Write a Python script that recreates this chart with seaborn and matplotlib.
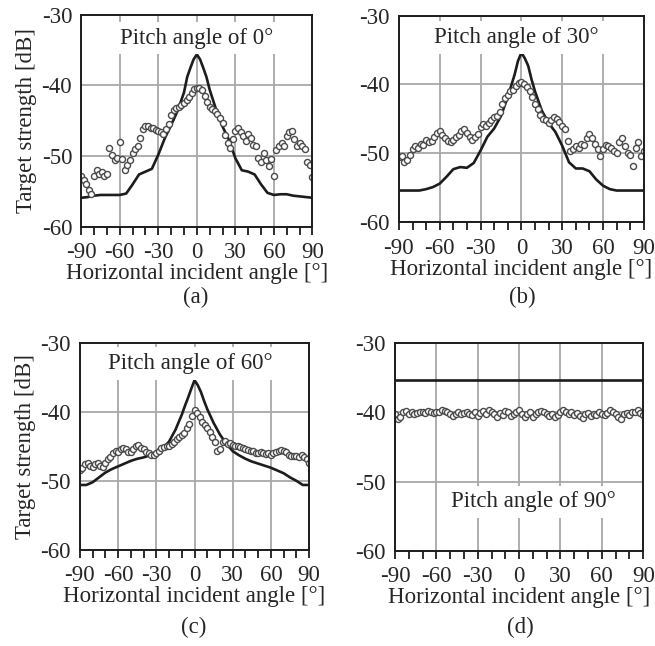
import numpy as np
import matplotlib
matplotlib.use("Agg")
import matplotlib.pyplot as plt
import seaborn as sns

# horizontal incident angle grids [deg]
sim_angle = [-90, -85, -80, -75, -70, -65, -60, -55, -50, -45, -40, -35, -30,
             -25, -20, -15, -10, -7.5, -5, -2.5, 0, 2.5, 5, 7.5, 10, 15, 20,
             25, 30, 35, 40, 45, 50, 55, 60, 65, 70, 75, 80, 85, 90]
meas_angle = np.arange(-90, 91, 2)

# simulated target strength [dB] (solid lines)
sim_p0 = [-55.9, -55.8, -55.6, -55.5, -55.5, -55.5, -55.5, -55.3, -54.0, -52.6,
          -52.2, -51.8, -49.8, -47.5, -45.6, -43.6, -41.0, -38.8, -37.5, -36.3,
          -35.6, -36.3, -37.5, -38.8, -40.6, -43.4, -45.8, -47.7, -50.3, -52.0,
          -52.2, -52.6, -54.0, -55.2, -55.5, -55.4, -55.4, -55.6, -55.7, -55.8,
          -55.9]
sim_p30 = [-55.4, -55.4, -55.4, -55.4, -55.2, -54.9, -54.4, -53.4, -52.3, -52.0,
           -52.1, -51.4, -49.6, -47.6, -46.4, -44.6, -41.8, -40.2, -38.6, -36.6,
           -35.4, -36.2, -37.3, -39.3, -41.0, -43.8, -45.6, -46.9, -48.9, -51.3,
           -52.2, -52.2, -52.6, -53.8, -54.7, -55.2, -55.4, -55.4, -55.4, -55.4,
           -55.4]
sim_p60 = [-50.6, -50.6, -50.2, -49.5, -48.8, -48.3, -47.9, -47.5, -47.1, -46.8,
           -46.6, -46.3, -45.9, -45.3, -44.3, -42.6, -40.4, -39.1, -37.9, -36.6,
           -35.4, -36.1, -37.1, -38.4, -39.6, -41.6, -43.3, -44.6, -45.7, -46.3,
           -46.8, -47.2, -47.5, -47.8, -48.1, -48.5, -48.9, -49.5, -50.0, -50.6,
           -50.6]
sim_p90 = [-35.3] * 41

# measured target strength [dB] (circles)
meas_p0 = [-52.8, -53.4, -54.0, -54.8, -55.4, -52.8, -52.0, -52.6, -52.2, -52.8,
           -52.6, -48.8, -49.8, -50.6, -50.2, -48.0, -50.4, -52.0, -51.2, -50.6,
           -49.6, -49.0, -48.6, -47.4, -46.2, -45.8, -45.7, -46.0, -46.0, -46.3,
           -46.4, -46.6, -46.8, -46.2, -45.4, -44.2, -43.4, -43.2, -43.0, -42.8,
           -42.5, -42.0, -41.6, -41.0, -40.5, -40.3, -40.4, -40.6, -41.5, -42.3,
           -43.0, -43.3, -43.6, -44.0, -44.6, -45.3, -47.0, -48.2, -48.8, -47.6,
           -46.5, -46.0, -46.6, -47.2, -47.8, -46.8, -47.4, -48.4, -48.6, -50.2,
           -50.8, -49.6, -50.6, -51.4, -50.4, -52.8, -49.2, -48.6, -48.2, -48.6,
           -47.2, -46.6, -46.4, -47.6, -48.6, -48.2, -48.6, -49.0, -50.8, -51.2,
           -52.9]
meas_p30 = [-50.6, -50.4, -51.2, -51.0, -50.2, -49.4, -49.0, -49.2, -48.6, -48.8,
            -48.0, -48.4, -48.2, -47.6, -47.0, -46.8, -47.4, -47.8, -48.2, -48.4,
            -48.0, -47.6, -47.4, -46.8, -46.4, -47.0, -47.6, -48.0, -47.6, -47.2,
            -46.2, -45.8, -46.0, -45.6, -45.2, -44.8, -44.6, -44.0, -42.8, -42.0,
            -41.6, -41.0, -40.8, -40.2, -39.8, -39.6, -39.9, -40.4, -41.0, -41.8,
            -42.8, -43.6, -44.4, -45.0, -45.2, -45.6, -45.2, -44.8, -45.0, -45.4,
            -46.0, -46.4, -48.2, -49.6, -49.4, -49.0, -49.2, -48.6, -48.8, -47.8,
            -47.2, -47.8, -48.6, -49.4, -50.4, -49.4, -48.8, -49.0, -49.2, -49.6,
            -50.0, -48.4, -47.8, -49.0, -50.0, -50.2, -51.8, -49.2, -48.4, -50.4,
            -49.6]
meas_p60 = [-48.4, -48.2, -47.6, -47.4, -47.8, -48.0, -47.6, -47.4, -47.8, -48.0,
            -47.4, -46.8, -46.6, -46.0, -45.6, -45.8, -45.4, -45.2, -45.4, -45.8,
            -45.8, -45.4, -44.9, -44.8, -45.2, -45.4, -45.8, -46.0, -46.2, -46.3,
            -45.9, -45.6, -45.3, -45.1, -45.0, -44.9, -44.6, -44.3, -44.0, -43.7,
            -43.3, -43.0, -42.4, -41.8, -40.6, -39.7, -40.2, -40.8, -41.4, -41.9,
            -42.4, -42.9, -43.6, -44.4, -45.6, -45.4, -44.4, -44.2, -44.6, -44.5,
            -44.8, -45.0, -45.0, -45.1, -45.3, -45.4, -45.5, -45.6, -45.6, -45.9,
            -46.0, -45.8, -46.0, -46.1, -46.0, -46.2, -46.0, -45.8, -45.7, -45.5,
            -45.6, -45.8, -46.2, -46.4, -46.4, -46.4, -46.6, -46.3, -46.6, -46.8,
            -47.4]
meas_p90 = [-40.2, -40.9, -40.6, -40.0, -39.8, -40.2, -40.0, -40.3, -40.1, -39.9,
            -40.0, -40.1, -39.8, -39.9, -40.1, -40.0, -39.9, -39.7, -39.8, -40.0,
            -40.3, -40.5, -40.2, -40.0, -40.3, -40.1, -39.9, -40.2, -40.4, -40.0,
            -40.5, -40.1, -39.8, -40.2, -39.7, -39.9, -40.3, -40.6, -40.1, -40.4,
            -39.8, -40.0, -40.5, -40.2, -39.9, -39.7, -40.3, -40.6, -40.2, -40.0,
            -40.6, -40.3, -40.0, -39.8, -40.0, -40.3, -40.5, -40.2, -40.7, -40.4,
            -40.0, -39.6, -39.9, -40.3, -40.0, -40.4, -40.1, -40.5, -40.8, -40.3,
            -40.1, -40.5, -40.2, -40.4, -40.0, -40.2, -40.4, -40.1, -39.6, -39.9,
            -40.3, -40.7, -40.9, -40.3, -40.1, -40.4, -40.0, -39.9, -39.7, -40.1,
            -40.4]

pitch_text = ["Pitch angle of 0°", "Pitch angle of 30°",
              "Pitch angle of 60°", "Pitch angle of 90°"]
panel_tags = ["(a)", "(b)", "(c)", "(d)"]

sns.set_style("white")
plt.rcParams["font.family"] = ["Liberation Serif", "DejaVu Serif"]
plt.rcParams["axes.unicode_minus"] = False

fig = plt.figure(figsize=(6.55, 6.46), dpi=100)

boxes = [[0.124, 0.649, 0.353, 0.328],
         [0.609, 0.656, 0.374, 0.320],
         [0.122, 0.149, 0.350, 0.320],
         [0.603, 0.147, 0.379, 0.322]]
text_xy = [(0, -33.3), (-4, -33.2), (-3, -33.0), (10, -52.9)]
tag_xy = [(0.298, 0.539), (0.798, 0.539), (0.295, 0.028), (0.794, 0.028)]
sims = [sim_p0, sim_p30, sim_p60, sim_p90]
meas = [meas_p0, meas_p30, meas_p60, meas_p90]

fs = 16.5
for i in range(4):
    ax = fig.add_axes(boxes[i])
    sns.lineplot(x=sim_angle, y=sims[i], color="#1c1c1c", linewidth=1.9,
                 ax=ax, zorder=3)
    sns.scatterplot(x=meas_angle, y=meas[i], marker="o", s=19,
                    facecolor="white", edgecolor="#4a4a4a", linewidth=1.0,
                    ax=ax, zorder=4)
    ax.set_xlim(-90, 90)
    ax.set_ylim(-60, -30)
    ax.set_xticks(range(-90, 91, 30))
    ax.set_xticks(range(-90, 91, 10), minor=True)
    ax.set_yticks([-60, -50, -40, -30])
    ax.grid(True, which="major", color="#a8a8a8", linewidth=1.3)
    ax.tick_params(axis="x", which="both", direction="out", bottom=True,
                   length=6, width=1.3, color="#1c1c1c", labelsize=fs, pad=5)
    ax.tick_params(axis="y", left=False, labelsize=fs, pad=3)
    for sp in ax.spines.values():
        sp.set_color("#1c1c1c")
        sp.set_linewidth(1.4)
        sp.set_zorder(5)
    ax.set_xlabel("Horizontal incident angle [°]", fontsize=fs, labelpad=0)
    if i % 2 == 0:
        ax.set_ylabel("Target strength [dB]", fontsize=fs, labelpad=3)
    else:
        ax.set_ylabel("")
    ax.text(text_xy[i][0], text_xy[i][1], pitch_text[i], fontsize=fs,
            ha="center", va="center", zorder=6,
            bbox=dict(boxstyle="square,pad=0.25", facecolor="white",
                      edgecolor="none"))
    fig.text(tag_xy[i][0], tag_xy[i][1], panel_tags[i], fontsize=fs,
             ha="center", va="center")

fig.savefig("out.png", dpi=100)
